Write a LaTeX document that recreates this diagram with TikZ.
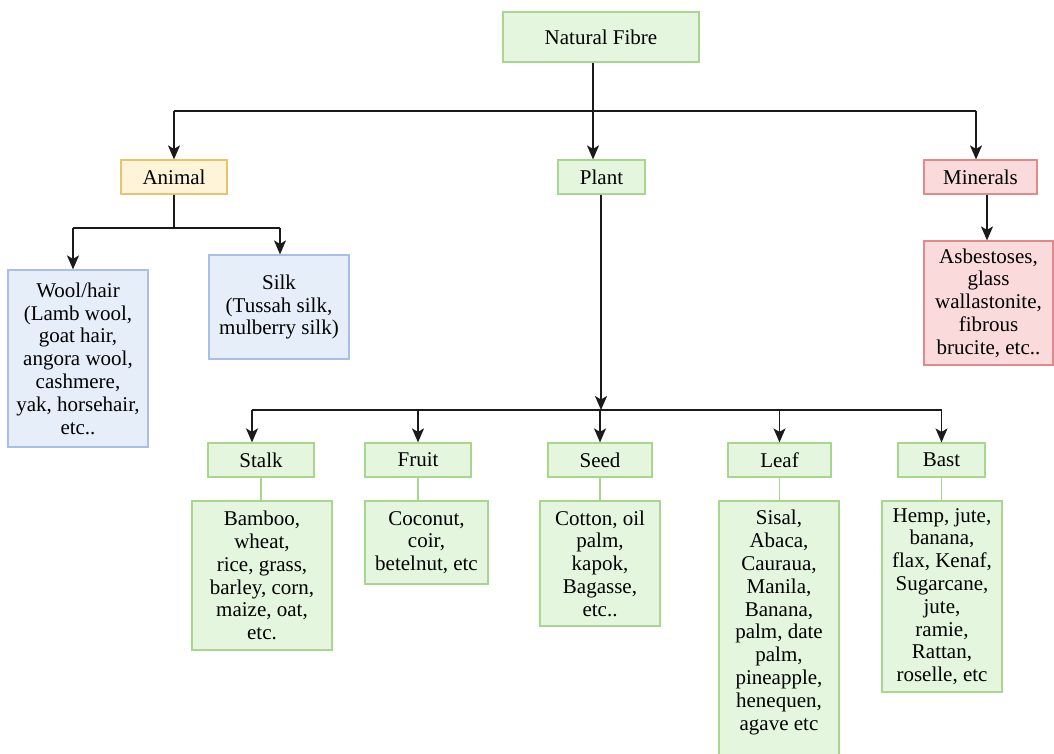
\documentclass[tikz,border=0pt]{standalone}
\usepackage{fontspec}
\setmainfont{Liberation Serif}
\usetikzlibrary{arrows.meta}
\definecolor{gfill}{HTML}{E4F6DD}
\definecolor{gline}{HTML}{A8D68E}
\definecolor{yfill}{HTML}{FFF4D8}
\definecolor{yline}{HTML}{E6C46E}
\definecolor{bfill}{HTML}{E6EEFA}
\definecolor{bline}{HTML}{A8C0E8}
\definecolor{rfill}{HTML}{FADADA}
\definecolor{rline}{HTML}{E08A8A}
\definecolor{ink}{HTML}{1A1A1A}
\begin{document}
\begin{tikzpicture}[x=1pt,y=-1pt,
  box/.style={draw, line width=1.2pt, inner sep=0pt, align=center, font=\fontsize{21}{22.8}\selectfont},
  gbox/.style={box, draw=gline, fill=gfill},
  ybox/.style={box, draw=yline, fill=yfill},
  bbox/.style={box, draw=bline, fill=bfill},
  rbox/.style={box, draw=rline, fill=rfill},
  txt/.style={inner sep=0pt, align=center, font=\fontsize{21}{22.8}\selectfont},
  ln/.style={draw=ink, line width=1.6pt},
  arr/.style={ln, -{Stealth[length=14pt,width=12pt,inset=3.5pt]}},
  gln/.style={draw=gline, line width=1.6pt}]
\clip (0,0) rectangle (1054,754);
\fill[white] (0,0) rectangle (1054,754);

% top level
\node[gbox, minimum width=196pt, minimum height=50pt] (nf) at (601,37) {Natural Fibre};
\node[ybox, minimum width=106pt, minimum height=34pt] (animal) at (174,177) {Animal};
\node[gbox, minimum width=87pt, minimum height=34pt] (plant) at (601.5,177) {Plant};
\node[rbox, minimum width=113pt, minimum height=34pt] (minerals) at (980.5,177) {Minerals};

% animal children
\node[bbox, minimum width=140pt, minimum height=177pt] (wool) at (78,358.5)
  {Wool/hair\\(Lamb wool,\\goat hair,\\angora wool,\\cashmere,\\yak, horsehair,\\etc..};
\node[bbox, minimum width=140pt, minimum height=104pt] (silk) at (279,307)
  {Silk\\(Tussah silk,\\mulberry silk)};

% minerals child
\node[rbox, minimum width=129pt, minimum height=124pt] (asb) at (988.5,303)
  {Asbestoses,\\glass\\wallastonite,\\fibrous\\brucite, etc..};

% plant children
\node[gbox, minimum width=106pt, minimum height=34pt] (stalk) at (261,460) {Stalk};
\node[gbox, minimum width=106pt, minimum height=34pt] (fruit) at (418,460) {Fruit};
\node[gbox, minimum width=104pt, minimum height=34pt] (seed) at (600,460) {Seed};
\node[gbox, minimum width=103pt, minimum height=34pt] (leaf) at (779.5,460) {Leaf};
\node[gbox, minimum width=87pt, minimum height=34pt] (bast) at (941.5,460) {Bast};

% details
\node[gbox, minimum width=140pt, minimum height=149pt] (stalkd) at (262,575.5)
  {Bamboo,\\wheat,\\rice, grass,\\barley, corn,\\maize, oat,\\etc.};
\node[gbox, minimum width=123pt, minimum height=83pt] (fruitd) at (426.5,542.5)
  {Coconut,\\coir,\\betelnut, etc};
\node[gbox, minimum width=120pt, minimum height=125pt] (seedd) at (600,563.5)
  {Cotton, oil\\palm,\\kapok,\\Bagasse,\\etc..};
\node[gbox, minimum width=120pt, minimum height=259pt] (leafd) at (779,630.5) {};
\node[txt] (leaft) at (779,622.5)
  {Sisal,\\Abaca,\\Cauraua,\\Manila,\\Banana,\\palm, date\\palm,\\pineapple,\\henequen,\\agave etc};
\node[gbox, minimum width=120pt, minimum height=191pt] (bastd) at (942,596.5)
  {Hemp, jute,\\banana,\\flax, Kenaf,\\Sugarcane,\\jute,\\ramie,\\Rattan,\\roselle, etc};

% top connectors
\coordinate (pin) at (593,161);
\draw[arr] (nf.south -| pin) -- (plant.north -| pin);
\coordinate (tl) at (174,111);
\coordinate (tr) at (976,111);
\draw[ln] (tl) -- (tr);
\draw[arr] (tl) -- (animal.north -| tl);
\draw[arr] (tr) -- (minerals.north -| tr);

% animal connectors
\coordinate (al) at (73,228);
\coordinate (ar) at (280,228);
\draw[ln] (animal.south) -- (animal.south |- al);
\draw[ln] (al) -- (ar);
\draw[arr] (al) -- (wool.north -| al);
\draw[arr] (ar) -- (silk.north -| ar);

% minerals connector
\coordinate (mx) at (987,200);
\draw[arr] (minerals.south -| mx) -- (asb.north -| mx);

% plant connectors
\coordinate (pj) at (601,410);
\coordinate (bl) at (252,410);
\coordinate (br) at (942,410);
\draw[ln] (bl) -- (br);
\draw[arr] (plant.south -| pj) -- (pj);
\draw[arr] (bl) -- (stalk.north -| bl);
\draw[arr] (fruit.north |- bl) -- (fruit.north);
\draw[arr] (seed.north |- bl) -- (seed.north);
\draw[arr] (leaf.north |- bl) -- (leaf.north);
\draw[arr] (bast.north |- bl) -- (bast.north);

% green links
\draw[gln] (stalk.south) -- (stalkd.north -| stalk.south);
\draw[gln] (fruit.south) -- (fruitd.north -| fruit.south);
\draw[gln] (seed.south) -- (seedd.north -| seed.south);
\draw[gln] (leaf.south) -- (leafd.north -| leaf.south);
\draw[gln] (bast.south) -- (bastd.north -| bast.south);
\end{tikzpicture}
\end{document}
